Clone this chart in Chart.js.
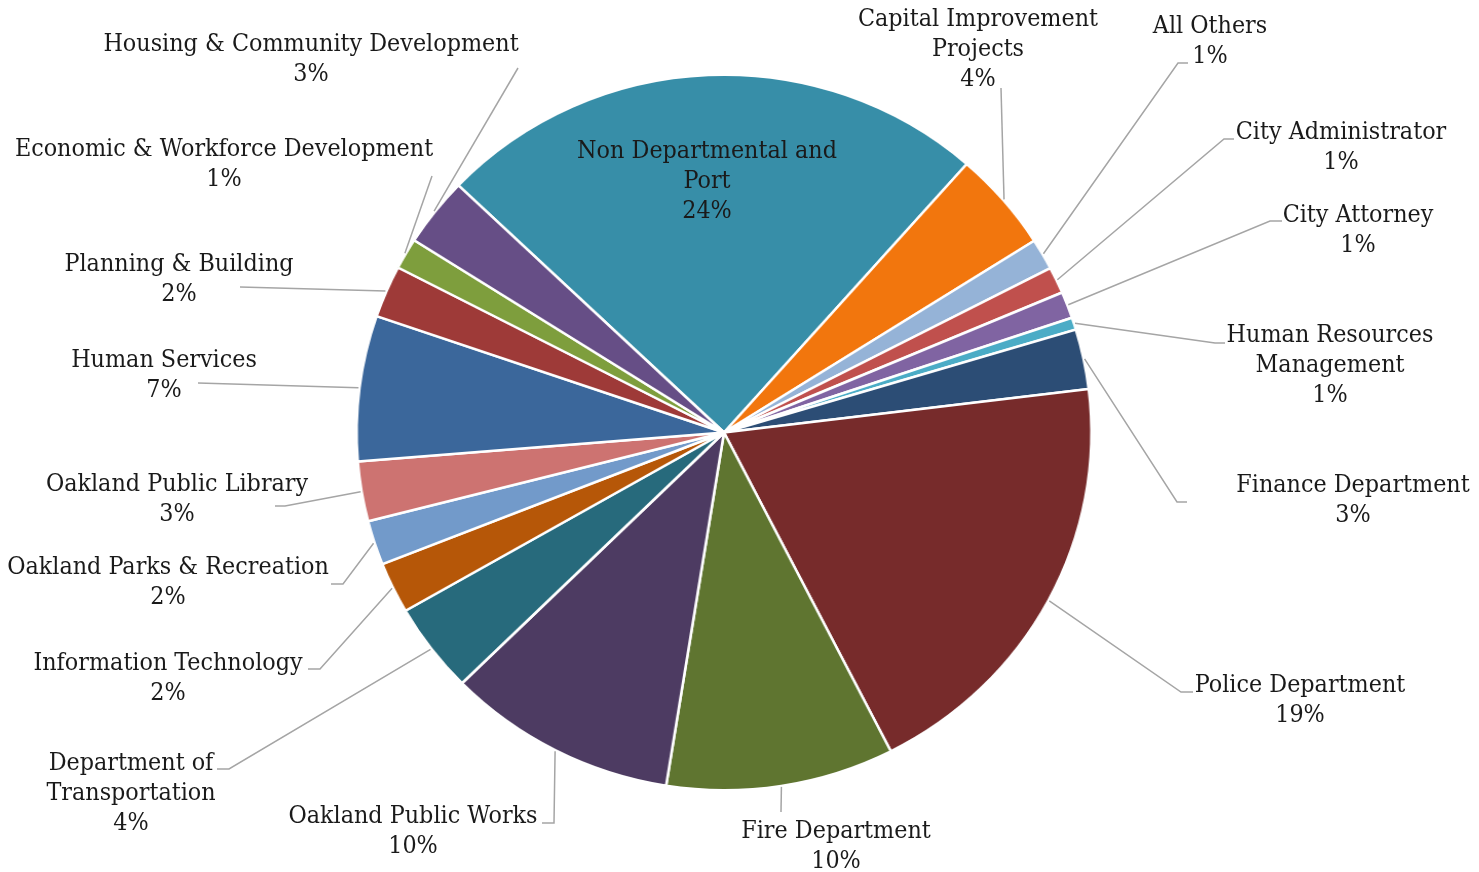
<!DOCTYPE html>
<html>
<head>
<meta charset="utf-8">
<script src="https://cdn.jsdelivr.net/npm/chart.js@4.4.1/dist/chart.umd.min.js"></script>
<style>
  html, body { margin: 0; padding: 0; background: #ffffff; overflow: hidden; }
  #wrap { width: 1479px; height: 872px; position: relative; transform-origin: 724px 0; transform: scaleX(1.027); }
  #overlay { position: absolute; left: 0; top: 0; width: 1479px; height: 872px; pointer-events: none; }
</style>
</head>
<body>
<div id="wrap"><canvas id="c"></canvas></div>
<canvas id="overlay" width="1479" height="872"></canvas>
<script>
// ---- data ----
const categories = [
  'Non Departmental and Port', 'Capital Improvement Projects', 'All Others',
  'City Administrator', 'City Attorney', 'Human Resources Management',
  'Finance Department', 'Police Department', 'Fire Department',
  'Oakland Public Works', 'Department of Transportation', 'Information Technology',
  'Oakland Parks & Recreation', 'Oakland Public Library', 'Human Services',
  'Planning & Building', 'Economic & Workforce Development', 'Housing & Community Development'
];
const shares = [24.3, 4.5, 1.4, 1.2, 1.2, 0.55, 2.7, 19.4, 10.0, 10.1, 4.05, 2.3, 2.0, 2.7, 6.55, 2.35, 1.4, 3.1];
const pctLabels = ['24%', '4%', '1%', '1%', '1%', '1%', '3%', '19%', '10%', '10%', '4%', '2%', '2%', '3%', '7%', '2%', '1%', '3%'];
const sliceColors = [
  '#378ea8', '#f2760d', '#95b3d7', '#c0504d', '#8064a2', '#4bacc6',
  '#2c4d75', '#772b2b', '#5f7530', '#4d3b62', '#276a7c', '#b65708',
  '#729aca', '#cd7371', '#3b679b', '#9e3a38', '#7e9e3d', '#664e86'
];

// ---- label layout (words on first line, text anchor, leader elbows) ----
const firstLineWords = [3, 2, 0, 0, 0, 2, 0, 0, 0, 0, 2, 0, 0, 0, 0, 0, 0, 0];
const labelAnchor = [
  [707, 152], [978, 20], [1210, 27], [1341, 133], [1358, 216], [1330, 336],
  [1353, 486], [1300, 686], [836, 832], [413, 817], [131, 764], [168, 664],
  [168, 568], [177, 485], [164, 361], [179, 265], [224, 150], [311, 45]
];
const leaderPts = [
  null, [[1001, 88]], [[1178, 63], [1188, 63]], [[1224, 139], [1234, 139]],
  [[1270, 221], [1282, 221]], [[1215, 343], [1225, 343]], [[1177, 502], [1187, 502]],
  [[1181, 692], [1193, 692]], [[781, 812]], [[554, 823], [542, 823]],
  [[229, 769], [217, 769]], [[320, 669], [308, 669]], [[343, 584], [331, 584]],
  [[285, 506], [275, 506]], [[198, 383]], [[240, 287]], [[432, 176]], [[518, 68]]
];
const STRETCH_X = 1.027;   // horizontal stretch of the reference pie
const ORIGIN_X = 724;

function splitLines(name, n) {
  if (!n) return [name];
  const w = name.split(' ');
  return [w.slice(0, n).join(' '), w.slice(n).join(' ')];
}

function pickFont(ctx) {
  const probe = 'Housing & Community Development';
  ctx.font = '100px monospace';
  const mono = ctx.measureText(probe).width;
  ctx.font = '100px "DejaVu Serif Condensed", monospace';
  const cond = ctx.measureText(probe).width;
  if (Math.abs(cond - mono) > 1) return { family: '"DejaVu Serif Condensed", "DejaVu Serif", serif', stretch: 'normal' };
  ctx.font = '100px "DejaVu Serif"';
  const normal = ctx.measureText(probe).width;
  let stretch = 'normal';
  if ('fontStretch' in ctx) {
    ctx.fontStretch = 'condensed';
    const c2 = ctx.measureText(probe).width;
    if (c2 < normal - 1) stretch = 'condensed';
    ctx.fontStretch = 'normal';
  }
  return { family: '"DejaVu Serif", serif', stretch };
}

const labelPlugin = {
  id: 'outLabels',
  afterDraw(chart) {
    const ov = document.getElementById('overlay');
    const ctx = ov.getContext('2d');
    ctx.clearRect(0, 0, ov.width, ov.height);
    const meta = chart.getDatasetMeta(0);
    const f = pickFont(ctx);
    if ('fontStretch' in ctx) ctx.fontStretch = f.stretch;
    ctx.font = '100px ' + f.family;
    const w100 = ctx.measureText('Housing & Community Development').width;
    const size = Math.round(100 * 415 / w100 * 10) / 10;

    // leader lines: start on the slice's outer edge at its mid angle
    ctx.strokeStyle = '#a5a5a5';
    ctx.lineWidth = 1.5;
    meta.data.forEach((arc, i) => {
      const pts = leaderPts[i];
      if (!pts) return;
      const p = arc.getProps(['x', 'y', 'startAngle', 'endAngle', 'outerRadius'], true);
      const mid = (p.startAngle + p.endAngle) / 2;
      const r = p.outerRadius + 1;
      const sx = ORIGIN_X + (p.x + Math.cos(mid) * r - ORIGIN_X) * STRETCH_X;
      const sy = p.y + Math.sin(mid) * r;
      ctx.beginPath();
      ctx.moveTo(sx, sy);
      pts.forEach(q => ctx.lineTo(q[0], q[1]));
      ctx.stroke();
    });
    // texts
    ctx.fillStyle = '#1a1a1a';
    ctx.font = size + 'px ' + f.family;
    ctx.textAlign = 'center';
    ctx.textBaseline = 'middle';
    categories.forEach((name, i) => {
      const lines = splitLines(name, firstLineWords[i]).concat([pctLabels[i]]);
      const [x, y] = labelAnchor[i];
      lines.forEach((t, k) => ctx.fillText(t, x, y + k * 30));
    });
  }
};

new Chart(document.getElementById('c'), {
  type: 'pie',
  data: {
    labels: categories,
    datasets: [{
      data: shares,
      backgroundColor: sliceColors,
      borderColor: '#ffffff',
      borderWidth: 2.5
    }]
  },
  options: {
    responsive: true,
    maintainAspectRatio: false,
    animation: false,
    rotation: -46.3,
    layout: { padding: { top: 73.5, bottom: 80.5, left: 365, right: 396 } },
    plugins: { legend: { display: false }, tooltip: { enabled: false } }
  },
  plugins: [labelPlugin]
});
</script>
</body>
</html>
